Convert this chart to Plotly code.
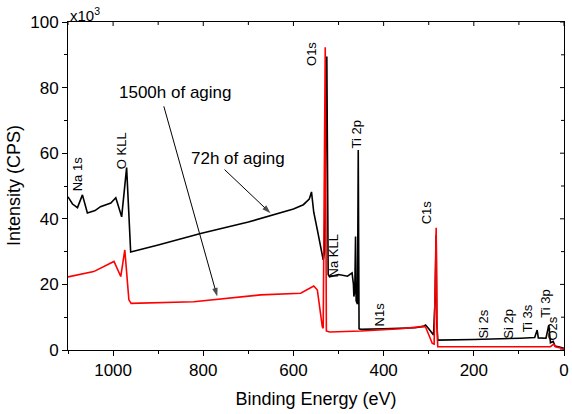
import plotly.graph_objects as go

# ---------------- data ----------------
# 72h of aging (black)
be_72h = [1100, 1090, 1079, 1068, 1057, 1040, 1028, 1005, 994, 981, 970, 961,
          900, 806, 700, 600, 578, 565, 560, 555, 547, 540, 534, 531, 526, 523,
          520, 500, 480, 470, 467, 466, 464, 462.3, 461, 458, 456.3, 454.5, 451,
          400, 330, 312, 307, 300, 289.4, 286, 283.5, 282, 280, 200, 150, 96, 65,
          59.5, 57, 40, 33.7, 30, 24, 20, 10, 0]
int_72h = [46.7, 44.5, 43.4, 47.3, 41.8, 42.5, 43.7, 44.8, 46.4, 40.6, 55.6, 29.9,
           32.0, 35.5, 39.0, 43.0, 44.3, 46.0, 48.2, 42.0, 36.6, 31.0, 27.5, 30.0, 89.5, 23.0,
           22.3, 23.0, 22.5, 23.5, 20.0, 16.3, 18.0, 34.6, 15.0, 14.0, 61.0, 6.5, 6.3,
           6.5, 6.8, 7.2, 7.6, 6.5, 4.6, 15.0, 35.0, 8.0, 3.0, 3.2, 3.3, 3.6, 3.8,
           6.1, 3.7, 3.6, 7.6, 2.2, 2.6, 1.2, 0.9, 0.5]

# 1500h of aging (red)
be_1500h = [1100, 1043, 998, 983, 974, 965, 960, 821, 673, 584, 555, 547, 536,
            534, 529.5, 527, 520, 450, 362, 312, 307, 296, 292, 288, 285, 283.5,
            282, 280, 200, 30, 23, 19, 10, 0]
int_1500h = [22.3, 23.9, 27.0, 22.4, 30.5, 15.3, 14.2, 14.7, 16.8, 17.3, 19.5, 18.3, 7.1,
             6.6, 92.3, 5.8, 5.5, 5.8, 6.5, 7.2, 7.0, 3.5, 2.0, 1.8, 20.0, 37.3,
             10.0, 1.0, 1.0, 1.0, 1.8, 1.0, 0.7, 0.3]

# peak labels: text, energy anchor, intensity anchor
peak_text = ["Na 1s", "O KLL", "O1s", "Ti 2p", "Na KLL", "C1s", "N1s",
             "Si 2s", "Si 2p", "Ti 3s", "Ti 3p", "O2s"]
peak_be = [1079, 981, 560, 460, 511, 303, 409, 178.5, 125, 81, 43, 25.5]
peak_int = [53.7, 60.8, 90.4, 65.6, 28.7, 42.1, 10.7, 7.9, 7.9, 9.8, 14.0, 6.4]

# call-out arrows (tail -> head) and their captions
arrow_be = [[887.5, 769.0], [752.8, 650.8]]
arrow_int = [[74.3, 16.3], [55.0, 41.7]]
caption_text = ["1500h of aging", "72h of aging"]
caption_be = [861, 722]
caption_int = [78.4, 58.4]

x_ticks = [1000, 800, 600, 400, 200, 0]
y_ticks = [0, 20, 40, 60, 80, 100]
x_minor_ticks = [1100, 1000, 900, 800, 700, 600, 500, 400, 300, 200, 100, 0]
y_minor_ticks = [0, 10, 20, 30, 40, 50, 60, 70, 80, 90, 100]

FONT = "Liberation Sans, Arial, sans-serif"
W, H = 572, 414
M = dict(l=68, r=8, t=22, b=64)
PLOT_W = W - M["l"] - M["r"]
PLOT_H = H - M["t"] - M["b"]

fig = go.Figure()
fig.add_trace(go.Scatter(x=be_72h, y=int_72h, mode="lines",
                         line=dict(color="black", width=1.6), name="72h of aging"))
fig.add_trace(go.Scatter(x=be_1500h, y=int_1500h, mode="lines",
                         line=dict(color="red", width=1.6), name="1500h of aging"))

for xs, ys in zip(arrow_be, arrow_int):
    fig.add_trace(go.Scatter(x=xs, y=ys, mode="lines+markers",
                             line=dict(color="black", width=1),
                             marker=dict(symbol="arrow", size=[0, 9], color="black",
                                         angleref="previous", line=dict(width=0)),
                             hoverinfo="skip", showlegend=False))

# inward ticks on the top and right frame
shapes = []
for v in x_minor_ticks:
    ln = 4 if v in x_ticks else 3
    shapes.append(dict(type="line", xref="x", yref="paper", x0=v, x1=v,
                       y0=1, y1=1 - ln / PLOT_H, line=dict(color="black", width=1)))
for v in y_minor_ticks:
    ln = 4 if v in y_ticks else 3
    shapes.append(dict(type="line", xref="paper", yref="y", x0=1, x1=1 - ln / PLOT_W,
                       y0=v, y1=v, line=dict(color="black", width=1)))

annotations = []
for t, xv, yv in zip(peak_text, peak_be, peak_int):
    annotations.append(dict(x=xv, y=yv, xref="x", yref="y", text=t, showarrow=False,
                            textangle=-90, font=dict(family=FONT, size=13, color="black"),
                            xanchor="center", yanchor="middle"))
for t, xv, yv in zip(caption_text, caption_be, caption_int):
    annotations.append(dict(x=xv, y=yv, xref="x", yref="y", text=t, showarrow=False,
                            font=dict(family=FONT, size=17, color="black")))
annotations.append(dict(x=0, y=1, xref="paper", yref="paper", text="x10<sup>3</sup>",
                        showarrow=False, xanchor="left", yanchor="bottom", yshift=-4,
                        font=dict(family=FONT, size=15, color="black")))
# y-axis title placed explicitly
annotations.append(dict(x=0, y=0.5, xref="paper", yref="paper", text="Intensity (CPS)",
                        showarrow=False, textangle=-90, xanchor="center", yanchor="middle",
                        xshift=-54, font=dict(family=FONT, size=18, color="black")))

axis_common = dict(showline=True, linecolor="black", linewidth=1, showgrid=False,
                   zeroline=False, tickcolor="black", tickwidth=1, mirror=True,
                   automargin=False)

fig.update_layout(
    width=W, height=H,
    margin=M,
    paper_bgcolor="white", plot_bgcolor="white",
    showlegend=False,
    font=dict(family=FONT, size=17, color="black"),
    xaxis=dict(range=[1100, 0], tickvals=x_ticks, ticks="outside", ticklen=5,
               minor=dict(dtick=100, ticks="outside", ticklen=3, tickcolor="black"),
               title=dict(text="Binding Energy (eV)", font=dict(size=18), standoff=12),
               tickfont=dict(size=17), **axis_common),
    yaxis=dict(range=[0, 100], tickvals=y_ticks, ticks="outside", ticklen=5,
               minor=dict(dtick=10, ticks="outside", ticklen=3, tickcolor="black"),
               tickfont=dict(size=17), **axis_common),
    shapes=shapes,
    annotations=annotations,
)

fig.write_html("out.html", config={"displayModeBar": False},
               post_script="document.body.style.margin='0px';document.body.style.padding='0px';")
